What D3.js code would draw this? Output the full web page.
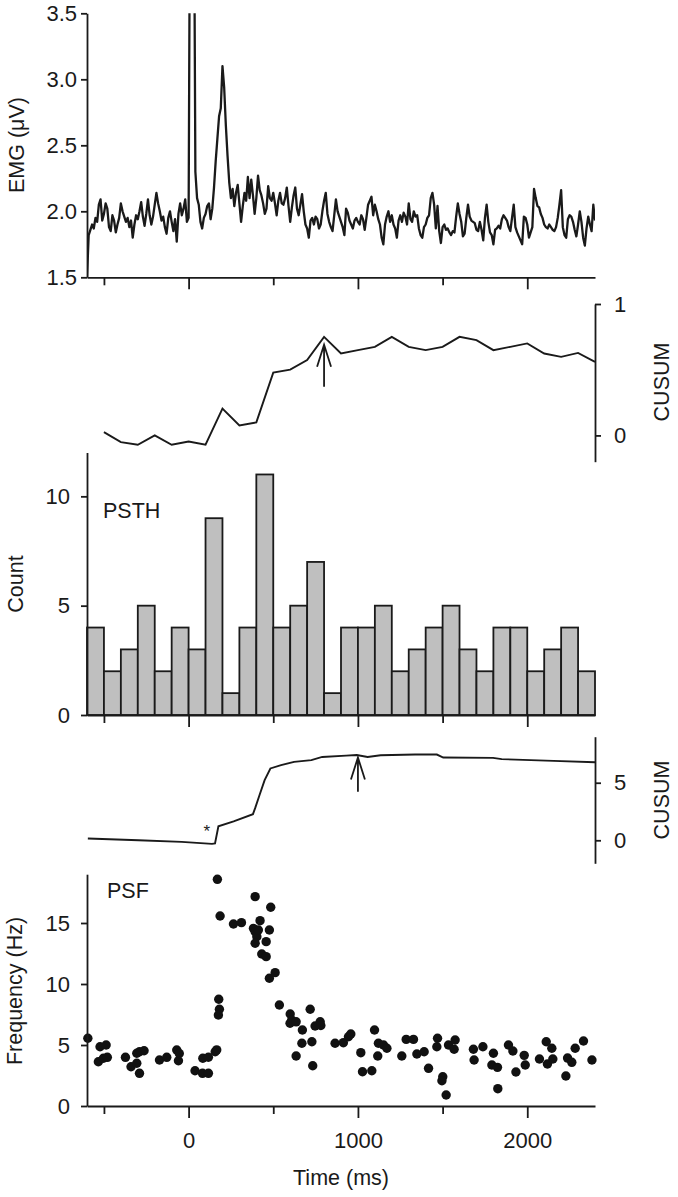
<!DOCTYPE html>
<html>
<head>
<meta charset="utf-8">
<script src="https://cdn.jsdelivr.net/npm/d3@7"></script>
<style>
  body { margin: 0; background: #fff; }
  svg { display: block; font-family: "Liberation Sans", Arial, sans-serif; }
  .axis path, .axis line { stroke: #1a1a1a; stroke-width: 1.8; }
  .axis text { font-size: 22px; fill: #1a1a1a; font-family: "Liberation Sans", Arial, sans-serif; }
  .lbl { font-size: 21.5px; fill: #1a1a1a; }
</style>
</head>
<body>
<svg id="chart" width="678" height="1197"></svg>
<script>
// time axis
const timeDomain = [-600, 2400];
const timeTicks = [-500, 0, 500, 1000, 1500, 2000];
const timeLabels = [0, 1000, 2000];

// EMG trace, one value every 10 ms starting at -600 ms
const emgStart = -600, emgStep = 10;
const emgValues = [
  1.50,1.82,1.86,1.90,1.87,1.95,1.92,2.05,2.09,1.93,
  1.98,2.06,2.02,1.88,1.85,1.97,1.93,1.84,1.90,1.95,
  2.06,2.00,1.96,1.92,1.95,1.88,1.93,1.80,1.90,1.97,
  1.94,2.00,2.07,1.96,1.89,1.98,2.09,1.97,1.90,1.96,
  2.05,2.14,2.06,2.00,1.93,1.96,1.88,1.83,1.95,2.00,
  1.92,1.85,1.94,1.77,1.98,2.06,1.97,2.02,2.09,1.92,
  1.95,5.00,5.00,5.00,2.30,2.10,2.05,1.92,1.87,1.95,
  1.98,2.04,2.06,1.94,2.02,2.18,2.38,2.55,2.72,2.78,
  3.10,2.94,2.65,2.42,2.22,2.10,2.17,2.04,2.14,2.20,
  2.06,1.92,2.04,2.14,2.08,2.26,2.10,2.24,2.12,1.98,
  2.10,2.27,2.16,2.12,2.06,1.98,2.02,2.19,2.10,2.08,
  2.14,2.06,1.97,2.08,2.14,2.06,2.05,2.10,2.18,2.04,
  1.92,2.03,2.12,2.18,2.02,1.97,2.05,2.13,2.00,1.90,
  1.87,1.80,1.93,1.95,1.90,1.96,1.94,1.87,1.90,2.00,
  2.08,2.14,1.98,1.92,1.88,1.85,1.97,2.09,2.00,1.96,
  1.92,1.88,1.82,2.02,1.99,1.93,1.90,1.87,1.93,1.95,
  1.92,1.90,1.97,1.94,1.86,1.95,2.05,2.08,2.11,1.97,
  2.05,2.00,1.94,1.90,1.80,1.75,1.90,1.96,2.00,1.92,
  1.97,1.90,1.87,1.80,1.93,1.97,1.92,1.99,1.96,1.90,
  2.06,1.94,1.92,2.00,1.96,1.97,1.87,1.82,1.80,1.88,
  1.90,1.95,1.97,2.10,2.14,2.05,1.87,2.04,1.85,1.76,
  1.88,1.90,1.86,1.87,1.84,1.82,1.85,1.84,1.96,2.06,
  1.98,1.92,1.81,1.83,1.95,2.05,1.96,1.93,1.92,1.91,
  1.86,1.85,1.92,1.86,1.78,1.95,2.05,1.92,1.84,1.82,
  1.75,1.86,1.87,1.89,1.87,1.94,1.97,1.95,1.93,1.88,
  1.85,1.95,2.05,1.88,1.84,1.81,1.78,1.75,1.96,1.95,
  1.90,1.80,1.84,1.88,2.17,2.10,2.04,2.03,1.98,1.95,
  1.90,1.88,1.87,1.90,1.88,1.86,1.85,1.88,1.95,2.05,
  2.16,1.88,1.82,1.80,1.94,1.97,1.96,1.92,1.86,1.81,
  1.90,2.00,1.92,1.80,1.74,1.87,1.96,1.90,1.85,2.05,
  1.93
];
const emgTicks = [1.5, 2.0, 2.5, 3.0, 3.5];

// PSTH: 100 ms bins from -600 ms
const psthStart = -600, binWidth = 100;
const psthCounts = [4,2,3,5,2,4,3,9,1,4,11,4,5,7,1,4,4,5,2,3,4,5,3,2,4,4,2,3,4,2];
const countTicks = [0, 5, 10];

// CUSUM of the PSTH, at the end of each bin
const cusum1Values = [0.025,-0.051,-0.071,0,-0.071,-0.046,-0.071,0.204,0.076,0.099,
  0.478,0.501,0.573,0.750,0.623,0.649,0.674,0.750,0.674,0.649,
  0.674,0.750,0.725,0.649,0.674,0.700,0.623,0.598,0.628,0.560];
const cusum1Ticks = [0, 1];
const cusum1Arrow = { t: 800, from: 0.37, to: 0.69 };

// CUSUM of the PSF
const cusum2Times = [-595,-296,-41,138,156,176,266,380,393,419,449,483,546,623,725,789,930,993,1057,1134,1338,1466,1504,1798,1849,2155,2400];
const cusum2Values = [0.15,0.0,-0.14,-0.31,-0.27,1.21,1.64,2.27,2.79,3.94,5.23,6.24,6.53,6.81,6.96,7.24,7.36,7.41,7.24,7.39,7.45,7.45,7.19,7.16,7.05,6.9,6.78];
const cusum2Ticks = [0, 5];
const cusum2Arrow = { t: 1000, from: 4.22, to: 7.19 };
const cusum2Star = { t: 108, v: 0.3 };

// peri-stimulus frequency
const psfTimes = [-595,-523,-487,-533,-503,-480,-373,-340,-306,-290,-290,-263,-306,-172,-129,-70,-60,-55,
  38,84,82,117,117,157,166,170,186,178,182,176,265,312,383,422,393,403,412,393,393,485,477,458,432,458,
  477,511,536,600,609,599,635,672,669,635,718,728,733,747,777,781,865,
  914,944,958,1017,1027,1082,1098,1121,1117,1151,1171,1259,1285,1328,1348,1391,1417,1470,1466,1501,1496,1521,
  1535,1574,1568,1682,1686,1738,1800,1791,1824,1826,1889,1915,1933,1982,1988,2072,2112,2145,2119,2151,
  2228,2238,2263,2283,2332,2382];
const psfFreqs = [5.55,4.86,5.0,3.63,3.91,3.99,3.99,3.22,3.5,2.68,4.45,4.53,4.32,3.77,3.99,4.59,3.71,4.3,
  2.89,3.91,2.68,2.68,4.0,4.45,4.6,18.58,15.57,8.75,7.93,7.46,14.92,15.03,14.56,15.19,14.29,13.88,14.43,13.34,17.16,16.29,14.43,13.47,12.46,12.24,
  10.47,10.93,8.28,7.54,7.05,6.78,6.9,6.23,5.14,4.1,7.93,5.27,3.3,6.56,6.9,6.6,5.14,
  5.19,5.68,5.9,4.37,2.81,2.89,6.23,5.14,4.1,5.0,4.73,4.1,5.46,5.46,4.26,4.45,3.09,5.55,4.86,2.4,2.07,0.9,
  5.0,5.41,4.65,4.65,3.77,4.86,4.32,3.36,3.17,1.42,5.0,4.51,2.79,4.15,3.36,3.85,5.27,4.73,3.44,3.85,
  2.46,3.93,3.58,4.73,5.33,3.77];
const freqTicks = [0, 5, 10, 15];

const svg = d3.select("#chart");
const ink = "#1a1a1a";

const x = d3.scaleLinear().domain(timeDomain).range([87, 595]);

function timeAxis(y, withLabels) {
  const g = svg.append("g").attr("class", "axis").attr("transform", `translate(0,${y})`)
    .call(d3.axisBottom(x).tickValues(timeTicks).tickSize(12).tickSizeOuter(0).tickPadding(14)
      .tickFormat(d => withLabels && timeLabels.includes(d) ? d : ""));
  g.selectAll(".tick line").attr("y2", d => timeLabels.includes(d) ? 12 : 8);
  return g;
}

function yLabel(text, cx, cy) {
  svg.append("text").attr("class", "lbl")
    .attr("transform", `translate(${cx},${cy}) rotate(-90)`)
    .attr("text-anchor", "middle").text(text);
}

function arrow(xs, ys, a) {
  const ax = xs(a.t), y0 = ys(a.from), y1 = ys(a.to);
  const p = d3.path();
  p.moveTo(ax, y0); p.lineTo(ax, y1);
  p.moveTo(ax - 7, y1 + 22); p.lineTo(ax, y1); p.lineTo(ax + 7, y1 + 22);
  svg.append("path").attr("d", p.toString()).attr("fill", "none")
    .attr("stroke", ink).attr("stroke-width", 1.8);
}

// ---- EMG panel
const yEmg = d3.scaleLinear().domain([1.5, 3.5]).range([277.3, 13.3]);
svg.append("clipPath").attr("id", "emgClip").append("rect")
  .attr("x", 87).attr("y", 13.3).attr("width", 508).attr("height", 264);
svg.append("path")
  .datum(emgValues)
  .attr("clip-path", "url(#emgClip)")
  .attr("fill", "none").attr("stroke", ink).attr("stroke-width", 2.3).attr("stroke-linejoin", "round")
  .attr("d", d3.line().x((d, i) => x(emgStart + i * emgStep)).y(d => yEmg(d)));
timeAxis(277.3, false);
svg.append("g").attr("class", "axis").attr("transform", "translate(87,0)")
  .call(d3.axisLeft(yEmg).tickValues(emgTicks).tickFormat(d3.format(".1f")).tickSize(6).tickSizeOuter(0).tickPadding(4));
yLabel("EMG (\u03bcV)", 24, 145);

// ---- CUSUM 1
const yC1 = d3.scaleLinear().domain([-0.2, 1]).range([461.7, 304]);
svg.append("path")
  .datum(cusum1Values)
  .attr("fill", "none").attr("stroke", ink).attr("stroke-width", 1.9)
  .attr("d", d3.line().x((d, i) => x(psthStart + (i + 1) * binWidth)).y(d => yC1(d)));
svg.append("g").attr("class", "axis").attr("transform", "translate(595,0)")
  .call(d3.axisRight(yC1).tickValues(cusum1Ticks).tickFormat(d3.format("d")).tickSize(6).tickSizeOuter(0).tickPadding(13));
arrow(x, yC1, cusum1Arrow);
yLabel("CUSUM", 669, 382);

// ---- PSTH
const yCount = d3.scaleLinear().domain([0, 12]).range([715, 452.6]);
svg.append("g").selectAll("rect")
  .data(psthCounts)
  .join("rect")
  .attr("x", (d, i) => x(psthStart + i * binWidth))
  .attr("width", (d, i) => x(psthStart + (i + 1) * binWidth) - x(psthStart + i * binWidth))
  .attr("y", d => yCount(d))
  .attr("height", d => yCount(0) - yCount(d))
  .attr("fill", "#bfbfbf").attr("stroke", ink).attr("stroke-width", 1.8);
timeAxis(715, false);
svg.append("g").attr("class", "axis").attr("transform", "translate(87,0)")
  .call(d3.axisLeft(yCount).tickValues(countTicks).tickSize(6).tickSizeOuter(0).tickPadding(11));
svg.append("text").attr("class", "lbl").attr("x", 103).attr("y", 518).text("PSTH");
yLabel("Count", 23, 584);

// ---- CUSUM 2
const yC2 = d3.scaleLinear().domain([-2, 9]).range([863.3, 736.7]);
svg.append("path")
  .datum(cusum2Times.map((t, i) => [t, cusum2Values[i]]))
  .attr("fill", "none").attr("stroke", ink).attr("stroke-width", 1.9)
  .attr("d", d3.line().x(d => x(d[0])).y(d => yC2(d[1])));
svg.append("g").attr("class", "axis").attr("transform", "translate(595,0)")
  .call(d3.axisRight(yC2).tickValues(cusum2Ticks).tickSize(6).tickSizeOuter(0).tickPadding(13));
arrow(x, yC2, cusum2Arrow);
svg.append("text").attr("x", x(cusum2Star.t)).attr("y", yC2(cusum2Star.v))
  .attr("text-anchor", "middle").attr("font-size", 17).attr("fill", ink).text("*");
yLabel("CUSUM", 669, 800);

// ---- PSF
const yFreq = d3.scaleLinear().domain([0, 19]).range([1106, 874.2]);
svg.append("g").selectAll("circle")
  .data(psfTimes.map((t, i) => [t, psfFreqs[i]]))
  .join("circle")
  .attr("cx", d => x(d[0])).attr("cy", d => yFreq(d[1]))
  .attr("r", 4.7).attr("fill", "#111");
timeAxis(1106, true);
svg.append("g").attr("class", "axis").attr("transform", "translate(87,0)")
  .call(d3.axisLeft(yFreq).tickValues(freqTicks).tickSize(6).tickSizeOuter(0).tickPadding(11));
svg.append("text").attr("class", "lbl").attr("x", 107).attr("y", 898).text("PSF");
yLabel("Frequency (Hz)", 22, 991);
svg.append("text").attr("class", "lbl").attr("x", 341).attr("y", 1185)
  .attr("text-anchor", "middle").text("Time (ms)");
</script>
</body>
</html>
